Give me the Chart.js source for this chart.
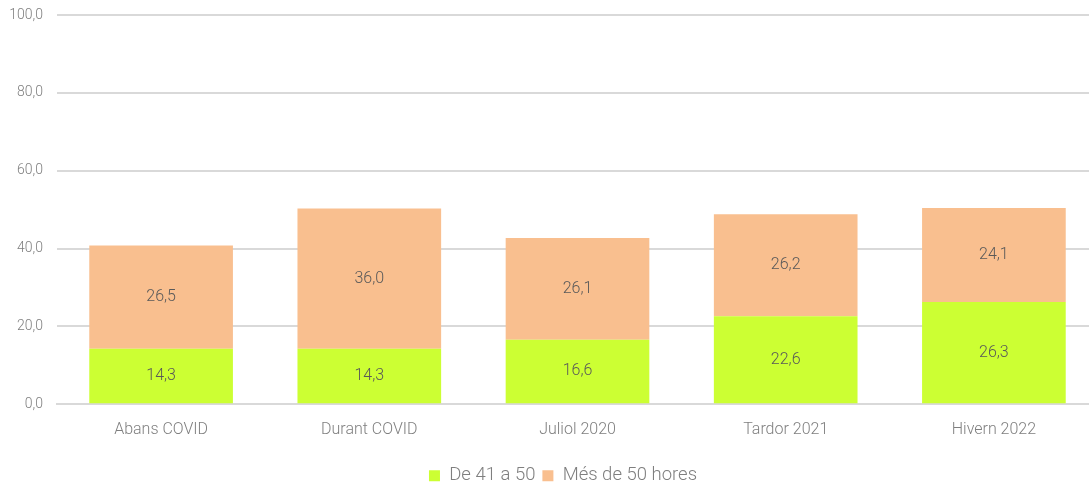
<!DOCTYPE html>
<html>
<head>
<meta charset="utf-8">
<script src="https://cdn.jsdelivr.net/npm/chart.js@4"></script>
<style>
  html, body { margin: 0; padding: 0; background: #fff; overflow: hidden; }
  #wrap { width: 1098px; height: 488px; }
</style>
</head>
<body>
<div id="wrap"><canvas id="chart"></canvas></div>
<script>
// categories and series
const periods = ['Abans COVID', 'Durant COVID', 'Juliol 2020', 'Tardor 2021', 'Hivern 2022'];
const from41to50 = [14.3, 14.3, 16.6, 22.6, 26.3];
const over50 = [26.5, 36.0, 26.1, 26.2, 24.1];
const seriesNames = ['De 41 a 50', 'Més de 50 hores'];

const fmt = v => v.toFixed(1).replace('.', ',');

// draws the value in the middle of each stacked segment
const segmentLabels = {
  id: 'segmentLabels',
  afterLayout(chart) {
    // nudge the legend a bit right, like the original
    chart.legend.left += 14;
    chart.legend.right += 14;
  },
  afterDatasetsDraw(chart) {
    const ctx = chart.ctx;
    ctx.save();
    ctx.font = '300 16px Roboto';
    ctx.fillStyle = '#595959';
    ctx.textAlign = 'center';
    ctx.textBaseline = 'middle';
    chart.data.datasets.forEach((ds, i) => {
      chart.getDatasetMeta(i).data.forEach((bar, j) => {
        const { x, y, base } = bar.getProps(['x', 'y', 'base'], true);
        ctx.fillText(fmt(ds.data[j]), x, (y + base) / 2);
      });
    });
    ctx.restore();
  }
};

new Chart(document.getElementById('chart'), {
  type: 'bar',
  data: {
    labels: periods,
    datasets: [
      { label: seriesNames[0], data: from41to50, backgroundColor: '#CCFF33' },
      { label: seriesNames[1], data: over50, backgroundColor: '#F9BF8F' }
    ]
  },
  options: {
    responsive: true,
    maintainAspectRatio: false,
    animation: false,
    datasets: { bar: { categoryPercentage: 1, barPercentage: 0.69 } },
    layout: { padding: { top: 15, bottom: -7 } },
    plugins: {
      tooltip: { enabled: false },
      legend: {
        position: 'bottom',
        labels: {
          font: { family: 'Roboto', size: 18.5, weight: '300' },
          color: '#7f7f7f',
          boxWidth: 11,
          boxHeight: 11,
          padding: 7
        }
      }
    },
    scales: {
      x: {
        stacked: true,
        grid: { display: false },
        border: { color: '#d9d9d9', width: 2 },
        afterFit(scale) { scale.height += 12; },
        ticks: { color: '#7f7f7f', font: { family: 'Roboto', size: 16, weight: '300' }, padding: 8 }
      },
      y: {
        stacked: true,
        min: 0,
        max: 100,
        afterFit(scale) { scale.width = 57; scale.paddingTop = 0; },
        grid: { color: '#d9d9d9', lineWidth: 2, tickLength: 0 },
        border: { display: false },
        ticks: {
          stepSize: 20,
          color: '#7f7f7f',
          font: { family: 'Roboto', size: 14, weight: '300' },
          padding: 14,
          callback: v => fmt(v)
        }
      }
    }
  },
  plugins: [segmentLabels]
});
</script>
</body>
</html>
